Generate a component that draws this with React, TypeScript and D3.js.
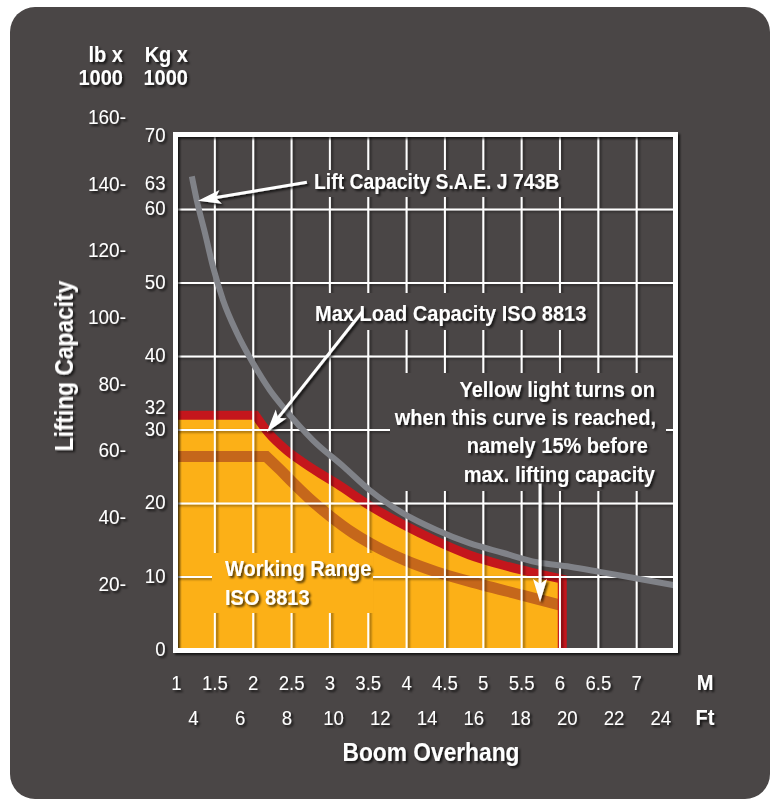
import * as React from "react";
import * as d3 from "d3";

// axis ticks
const meterTicks = [1, 1.5, 2, 2.5, 3, 3.5, 4, 4.5, 5, 5.5, 6, 6.5, 7];
const feetTicks = [4, 6, 8, 10, 12, 14, 16, 18, 20, 22, 24];
const kgTicks = [0, 10, 20, 30, 40, 50, 60, 70];
const kgMarks = [63, 32];
const lbTicks = [20, 40, 60, 80, 100, 120, 140, 160];

// Lift capacity S.A.E. J 743B (grey curve), boom overhang in m / kg x 1000
const liftM = [1.2, 1.263, 1.371, 1.476, 1.606, 1.788, 1.997, 2.219, 2.44, 2.78, 3.18, 3.52, 3.95, 4.39, 4.82, 5.25, 5.7, 6.13, 6.52, 6.95, 7.5];
const liftKg = [64.5, 61.3, 56.8, 52.2, 47.7, 43.2, 39.1, 35.4, 32.5, 28.6, 25.0, 21.8, 18.7, 16.4, 14.6, 13.3, 12.0, 11.4, 10.7, 9.9, 8.85];

// Max load capacity ISO 8813 (red edge of the working range)
const maxLoadM = [1, 2.03, 2.2, 2.44, 2.65, 2.87, 3.09, 3.52, 3.96, 4.39, 4.82, 5.26, 5.69, 6.03];
const maxLoadKg = [32, 32, 29.6, 27.2, 25.6, 24.1, 22.7, 19.7, 17.1, 14.9, 13.0, 11.6, 10.5, 9.7];

// yellow light curve (15% before max)
const warnM = [1, 2.17, 2.35, 2.52, 2.74, 3.0, 3.3, 3.61, 4.0, 4.39, 5.0, 5.48, 6.03];
const warnKg = [26.4, 26.4, 24.6, 22.8, 20.6, 18.3, 16.0, 14.1, 12.2, 10.7, 8.9, 7.6, 6.1];

const yellowText = [
  "Yellow light turns on",
  "when this curve is reached,",
  "namely 15% before ",
  "max. lifting capacity",
];

const LB_PER_KG = 2.20462;
const M_PER_FT = 0.3048;

const FONT = "'Liberation Sans', Arial, sans-serif";
const BG = "#4a4646";
const ORANGE = "#fcb017";
const RED = "#c4161c";
const DARK = "#c5671b";
const GREY = "#808288";

function CText({ x, y, anchor = "start", size = 22, bold = true, sx = 0.91, children }: any) {
  return (
    <text
      transform={`translate(${x},${y}) scale(${sx},1)`}
      textAnchor={anchor}
      fontSize={size}
      fontWeight={bold ? "bold" : "normal"}
      fill="#fff"
    >
      {children}
    </text>
  );
}

function Arrow({ from, to }: any) {
  const [x1, y1] = from;
  const [x2, y2] = to;
  const len = Math.hypot(x2 - x1, y2 - y1);
  const ux = (x2 - x1) / len, uy = (y2 - y1) / len;
  const hl = 23, hw = 7;
  const bx = x2 - ux * hl, by = y2 - uy * hl;
  const head = [
    [x2, y2],
    [bx - uy * hw, by + ux * hw],
    [bx + ux * 5, by + uy * 5],
    [bx + uy * hw, by - ux * hw],
  ];
  return (
    <g>
      <line x1={x1} y1={y1} x2={bx + ux * 6} y2={by + uy * 6} stroke="#fff" strokeWidth={3} />
      <polygon points={head.map(p => p.join(",")).join(" ")} fill="#fff" />
    </g>
  );
}

export default function App() {
  const W = 773, H = 800;
  const x = d3.scaleLinear().domain([1, 7.5]).range([176.5, 675]);
  const y = d3.scaleLinear().domain([0, 70]).range([650.5, 136]);
  const frame = { x: 175.5, y: 134.5, w: 500, h: 516 };

  const zip = (a: number[], b: number[]) => a.map((v, i) => [v, b[i]] as [number, number]);
  const smooth = d3.line<[number, number]>()
    .x(d => x(d[0]))
    .y(d => y(d[1]))
    .curve(d3.curveMonotoneX);

  // flat start + smooth falloff
  const edgePath = (pts: [number, number][]) =>
    `M${x(pts[0][0])},${y(pts[0][1])}` + (smooth(pts.slice(1)) || "").replace(/^M/, "L");

  const liftPath = smooth(zip(liftM, liftKg)) || "";
  const maxPts = zip(maxLoadM, maxLoadKg);
  const lastMax = maxPts[maxPts.length - 1];
  const maxPath = edgePath(maxPts) + `L${x(lastMax[0])},${y(-3)}`;
  const fillPath = maxPath + `L${x(1) - 5},${y(-3)}L${x(1) - 5},${y(maxPts[0][1])}Z`;
  const warnPath = edgePath(zip(warnM, warnKg));

  // gaps in the grid behind the annotation texts
  const gridGaps = [
    { x: 306, y: 170, w: 262, h: 27 },
    { x: 306, y: 293, w: 290, h: 37 },
    { x: 390, y: 373, w: 276, h: 118 },
    { x: 212, y: 553, w: 161, h: 60 },
  ];

  const yellowEnds = [655, 656, 648, 655];

  return (
    <div style={{ position: "absolute", left: 0, top: 0 }}>
      <svg width={W} height={H} style={{ display: "block", fontFamily: FONT }}>
        <defs>
          <clipPath id="plotClip">
            <rect x={frame.x} y={frame.y} width={frame.w} height={frame.h} />
          </clipPath>
          <filter id="shadow" filterUnits="userSpaceOnUse" x={0} y={0} width={W} height={H}>
            <feDropShadow dx={2} dy={2} stdDeviation={1.3} floodColor="#000" floodOpacity={0.7} />
          </filter>
          <filter id="gridShadow" filterUnits="userSpaceOnUse" x={0} y={0} width={W} height={H}>
            <feDropShadow dx={2} dy={1.5} stdDeviation={1.2} floodColor="#000" floodOpacity={0.45} />
          </filter>
          <mask id="gridMask" maskUnits="userSpaceOnUse" x={0} y={0} width={W} height={H}>
            <rect x={0} y={0} width={W} height={H} fill="#fff" />
            {gridGaps.map((g, i) => (
              <rect key={i} x={g.x} y={g.y} width={g.w} height={g.h} fill="#000" />
            ))}
          </mask>
        </defs>

        <rect width={W} height={H} fill="#fff" />
        <rect x={10} y={7} width={760} height={792} rx={25} fill={BG} />

        {/* plot */}
        <g clipPath="url(#plotClip)">
          <path d={fillPath} fill={ORANGE} />
          <path d={warnPath} fill="none" stroke={DARK} strokeWidth={11} />
          <path d={maxPath} fill="none" stroke={RED} strokeWidth={9} strokeLinejoin="miter" />
          <g mask="url(#gridMask)">
            <g filter="url(#gridShadow)" stroke="#fff" strokeWidth={2}>
              {meterTicks.filter(m => m > 1).map(m => (
                <line key={"v" + m} x1={x(m)} x2={x(m)} y1={frame.y} y2={frame.y + frame.h} />
              ))}
              {kgTicks.filter(k => k > 0 && k < 70).map(k => (
                <line key={"h" + k} x1={frame.x} x2={frame.x + frame.w} y1={y(k)} y2={y(k)} />
              ))}
            </g>
          </g>
          <path d={liftPath} fill="none" stroke={GREY} strokeWidth={6} />
        </g>

        <g filter="url(#shadow)">
          <rect x={frame.x} y={frame.y} width={frame.w} height={frame.h} fill="none" stroke="#fff" strokeWidth={5} />
        </g>

        <g filter="url(#shadow)">
          {/* unit headers */}
          <CText x={123} y={62} anchor="end">lb x</CText>
          <CText x={123} y={85} anchor="end">1000</CText>
          <CText x={188} y={62} anchor="end">Kg x</CText>
          <CText x={188} y={85} anchor="end">1000</CText>

          {lbTicks.map(lb => (
            <CText key={"lb" + lb} x={126} y={y(lb / LB_PER_KG) + 7} anchor="end" size={20} bold={false} sx={0.95}>
              {lb}-
            </CText>
          ))}
          {kgTicks.map(k => (
            <CText key={"kg" + k} x={165.5} y={y(k) + 5.5} anchor="end" size={20} bold={false} sx={0.93}>
              {k}
            </CText>
          ))}
          {kgMarks.map(k => (
            <CText key={"km" + k} x={165.5} y={y(k) + 5.5 - (k === 32 ? 7 : 3)} anchor="end" size={20} bold={false} sx={0.93}>
              {k}
            </CText>
          ))}

          <text transform="translate(73,366) rotate(-90) scale(0.91,1)" textAnchor="middle" fontSize={25} fontWeight="bold" fill="#fff">
            Lifting Capacity
          </text>

          {meterTicks.map(m => (
            <CText key={"m" + m} x={x(m)} y={690} anchor="middle" size={20} bold={false} sx={0.93}>
              {m}
            </CText>
          ))}
          {feetTicks.map(f => (
            <CText key={"f" + f} x={x(f * M_PER_FT)} y={725} anchor="middle" size={20} bold={false} sx={0.93}>
              {f}
            </CText>
          ))}
          <CText x={705} y={690} anchor="middle">M</CText>
          <CText x={705} y={725} anchor="middle">Ft</CText>
          <CText x={431} y={761} anchor="middle" size={25}>Boom Overhang</CText>

          {/* annotations */}
          <CText x={314} y={188.5} sx={0.88}>Lift Capacity S.A.E. J 743B</CText>
          <Arrow from={[x(2.7), y(63.7)]} to={[x(1.28), y(61.2)]} />

          <CText x={315} y={321}>Max Load Capacity ISO 8813</CText>
          <Arrow from={[x(3.418), y(46.05)]} to={[x(2.179), y(29.73)]} />

          {yellowText.map((t, i) => (
            <CText key={i} x={yellowEnds[i]} y={397 + i * 28.2} anchor="end">
              {t}
            </CText>
          ))}
          <Arrow from={[x(5.74), y(22.7)]} to={[x(5.74), y(6.6)]} />

          <CText x={225} y={576}>Working Range</CText>
          <CText x={225} y={605}>ISO 8813</CText>
        </g>
      </svg>
    </div>
  );
}
